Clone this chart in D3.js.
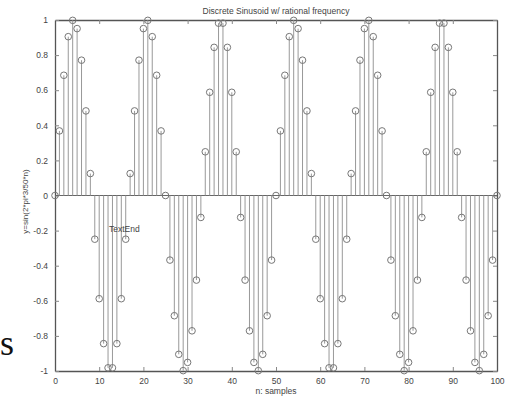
<!DOCTYPE html>
<html>
<head>
<meta charset="utf-8">
<script src="https://cdn.jsdelivr.net/npm/d3@7"></script>
<style>
  html, body { margin: 0; padding: 0; background: #fff; }
  svg { display: block; }
  text { font-family: "Liberation Sans", Arial, sans-serif; fill: #444; }
  text.margin-glyph { font-family: "Liberation Serif", "DejaVu Serif", serif; font-size: 36px; fill: #111; }
</style>
</head>
<body>
<svg id="chart" width="516" height="399"></svg>
<script>
// Sample index n
const samples = d3.range(0, 101);
// y[n] sampled values
const values = [
  0.000, 0.368, 0.685, 0.905, 0.998, 0.951, 0.771, 0.482, 0.125, -0.249,
  -0.588, -0.844, -0.982, -0.982, -0.844, -0.588, -0.249, 0.125, 0.482, 0.771,
  0.951, 0.998, 0.905, 0.685, 0.368, 0.000, -0.368, -0.685, -0.905, -0.998,
  -0.951, -0.771, -0.482, -0.125, 0.249, 0.588, 0.844, 0.982, 0.982, 0.844,
  0.588, 0.249, -0.125, -0.482, -0.771, -0.951, -0.998, -0.905, -0.685, -0.368,
  0.000, 0.368, 0.685, 0.905, 0.998, 0.951, 0.771, 0.482, 0.125, -0.249,
  -0.588, -0.844, -0.982, -0.982, -0.844, -0.588, -0.249, 0.125, 0.482, 0.771,
  0.951, 0.998, 0.905, 0.685, 0.368, 0.000, -0.368, -0.685, -0.905, -0.998,
  -0.951, -0.771, -0.482, -0.125, 0.249, 0.588, 0.844, 0.982, 0.982, 0.844,
  0.588, 0.249, -0.125, -0.482, -0.771, -0.951, -0.998, -0.905, -0.685, -0.368,
  0.000
];
const xTicks = [0, 10, 20, 30, 40, 50, 60, 70, 80, 90, 100];
const yTicks = [-1, -0.8, -0.6, -0.4, -0.2, 0, 0.2, 0.4, 0.6, 0.8, 1];

const svg = d3.select("#chart");
const plotLeft = 55, plotRight = 497, plotTop = 20, plotBottom = 371;

const x = d3.scaleLinear().domain([0, 100]).range([plotLeft, plotRight]);
const y = d3.scaleLinear().domain([-1, 1]).range([plotBottom, plotTop]);

const axisColor = "#555";
const tickFmt = d => String(+d.toFixed(1));

// Axes with inward ticks on all four sides
const gB = svg.append("g").attr("transform", `translate(0,${plotBottom})`)
  .call(d3.axisBottom(x).tickValues(xTicks).tickSizeInner(-4).tickSizeOuter(0).tickPadding(7).tickFormat(d3.format("d")));
const gT = svg.append("g").attr("transform", `translate(0,${plotTop})`)
  .call(d3.axisTop(x).tickValues(xTicks).tickSizeInner(-4).tickSizeOuter(0).tickFormat(""));
const gL = svg.append("g").attr("transform", `translate(${plotLeft},0)`)
  .call(d3.axisLeft(y).tickValues(yTicks).tickSizeInner(-4).tickSizeOuter(0).tickPadding(7).tickFormat(tickFmt));
const gR = svg.append("g").attr("transform", `translate(${plotRight},0)`)
  .call(d3.axisRight(y).tickValues(yTicks).tickSizeInner(-4).tickSizeOuter(0).tickFormat(""));

[gB, gT, gL, gR].forEach(g => {
  g.select(".domain").attr("stroke", axisColor).attr("stroke-width", 1.3);
  g.selectAll(".tick line").attr("stroke", "#888");
  g.selectAll(".tick text").attr("fill", "#444").attr("font-size", 8.5);
});

// Baseline at zero
svg.append("line")
  .attr("x1", plotLeft).attr("x2", plotRight)
  .attr("y1", y(0)).attr("y2", y(0))
  .attr("stroke", "#666").attr("stroke-width", 1);

// Stems
svg.append("g").selectAll("line").data(samples).join("line")
  .attr("x1", d => x(d)).attr("x2", d => x(d))
  .attr("y1", y(0)).attr("y2", d => y(values[d]))
  .attr("stroke", "#999").attr("stroke-width", 1);

// Open circle markers
svg.append("g").selectAll("circle").data(samples).join("circle")
  .attr("cx", d => x(d)).attr("cy", d => y(values[d]))
  .attr("r", 3.3)
  .attr("fill", "none").attr("stroke", "#777").attr("stroke-width", 1);

// Title
svg.append("text").attr("x", (plotLeft + plotRight) / 2).attr("y", 14)
  .attr("text-anchor", "middle").attr("font-size", 8.5)
  .text("Discrete Sinusoid w/ rational frequency");

// X label
svg.append("text").attr("x", (plotLeft + plotRight) / 2).attr("y", 394)
  .attr("text-anchor", "middle").attr("font-size", 8.5)
  .text("n: samples");

// Y label
svg.append("text")
  .attr("transform", `translate(28,${(plotTop + plotBottom) / 2 + 6}) rotate(-90)`)
  .attr("text-anchor", "middle").attr("font-size", 8)
  .text("y=sin(2*pi*3/50*n)");

// Annotation inside the axes
svg.append("text").attr("x", 109).attr("y", 232)
  .attr("font-size", 8.5)
  .text("TextEnd");

// Stray glyph at the left margin
svg.append("text").attr("class", "margin-glyph")
  .attr("x", 0).attr("y", 355)
  .text("s");
</script>
</body>
</html>
